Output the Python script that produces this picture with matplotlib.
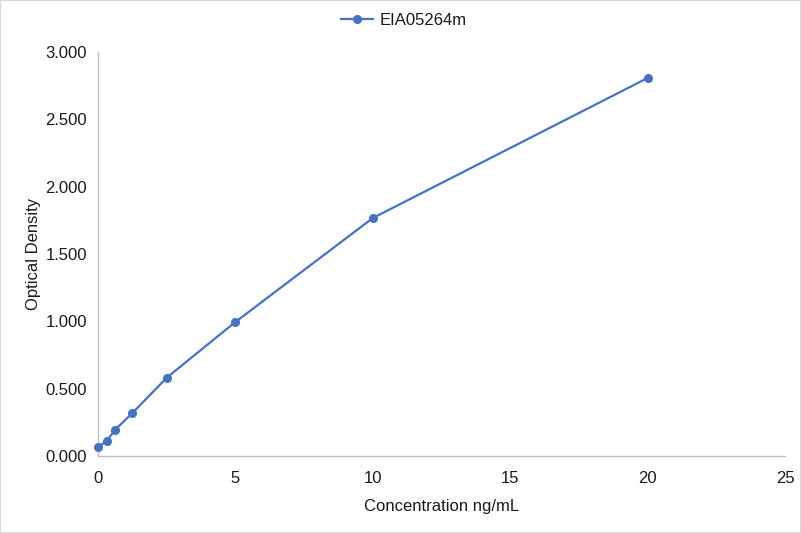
import matplotlib
matplotlib.use("Agg")
import matplotlib.pyplot as plt
from matplotlib.ticker import FormatStrFormatter

plt.rcParams["font.family"] = ["Liberation Sans", "DejaVu Sans"]

# standard curve readings
concentration = [0, 0.3125, 0.625, 1.25, 2.5, 5, 10, 20]
optical_density = [0.065, 0.111, 0.195, 0.318, 0.581, 0.995, 1.767, 2.807]
series_name = "EIA05264m"

fig = plt.figure(figsize=(8.01, 5.33), dpi=100)
ax = fig.add_axes([0.1223, 0.1445, 0.8577, 0.7579])

ax.plot(concentration, optical_density, color="#4472C4", linewidth=1.6,
        marker="o", markersize=5.5, label=series_name, clip_on=False, zorder=3)

ax.set_xlim(0, 25)
ax.set_ylim(0, 3)
ax.set_xticks([0, 5, 10, 15, 20, 25])
ax.set_yticks([0, 0.5, 1.0, 1.5, 2.0, 2.5, 3.0])
ax.yaxis.set_major_formatter(FormatStrFormatter("%.3f"))

for side in ["top", "right"]:
    ax.spines[side].set_visible(False)
for side in ["left", "bottom"]:
    ax.spines[side].set_color("#BFBFBF")
    ax.spines[side].set_linewidth(1)

ax.tick_params(length=0, labelsize=12, colors="#1a1a1a", pad=8)
ax.tick_params(axis="x", pad=11)

ax.set_xlabel("Concentration ng/mL", fontsize=12, color="#1a1a1a", labelpad=9)
ax.set_ylabel("Optical Density", fontsize=12, color="#1a1a1a", labelpad=3)

ax.legend(loc="center", bbox_to_anchor=(0.445, 1.079), frameon=False,
          fontsize=12, handlelength=1.9, handletextpad=0.4,
          labelcolor="#1a1a1a")

fig.patches.append(plt.Rectangle((0, 0), 1, 1, transform=fig.transFigure,
                                 fill=False, edgecolor="#D9D9D9", linewidth=1.5))

fig.savefig("out.png", dpi=100)
